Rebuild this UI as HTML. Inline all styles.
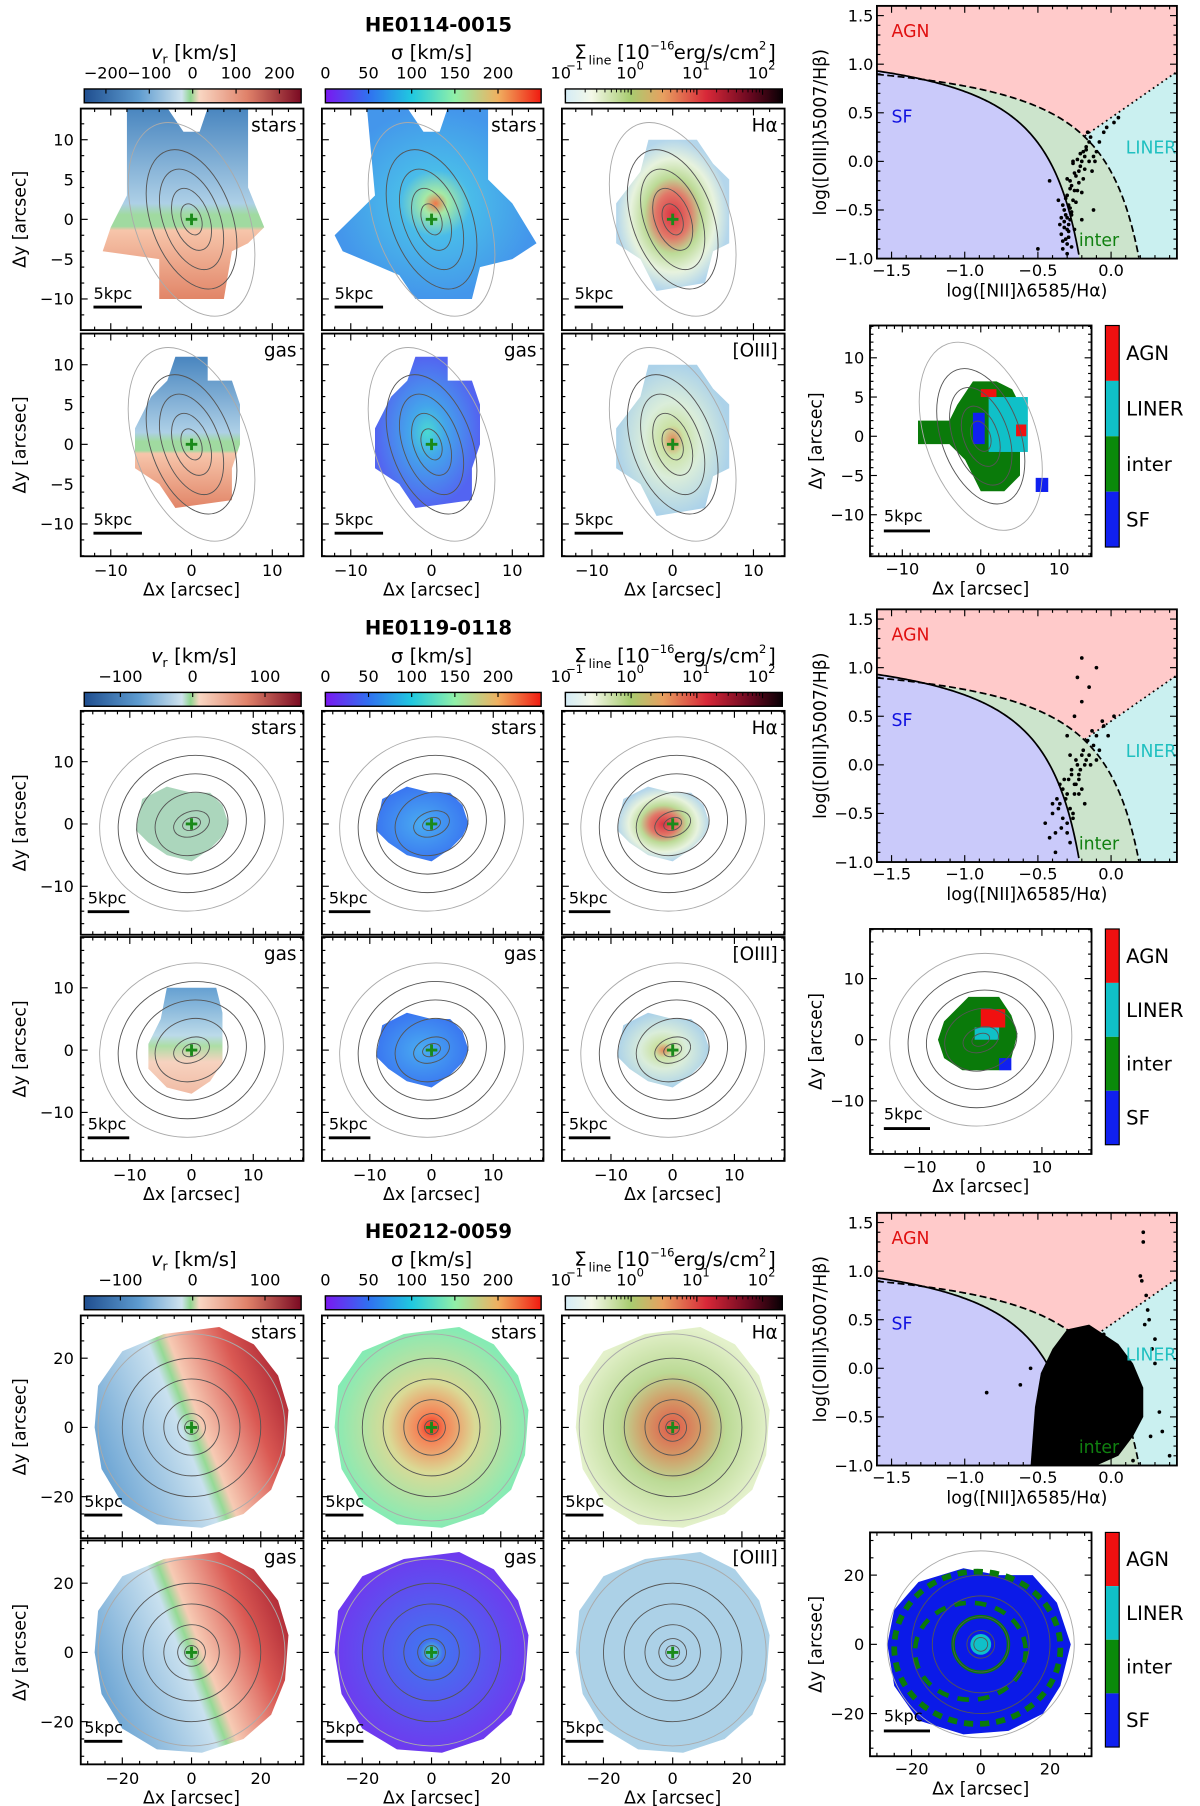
<!DOCTYPE html>
<html><head><meta charset="utf-8">
<style>
html,body{margin:0;padding:0;background:#fff;}
svg{display:block;font-family:"DejaVu Sans","Liberation Sans",sans-serif;}
</style></head>
<body>
<svg id="fig" xmlns="http://www.w3.org/2000/svg" width="1200" height="1806" viewBox="0 0 1040 1565">
<defs>
<linearGradient id="cbVel" x1="0" x2="1" y1="0" y2="0">
<stop offset="0" stop-color="#1f4e8f"/><stop offset="0.25" stop-color="#5d9bcf"/><stop offset="0.45" stop-color="#cfe3ee"/><stop offset="0.49" stop-color="#8fd68f"/><stop offset="0.53" stop-color="#f9d7c3"/><stop offset="0.75" stop-color="#e0826a"/><stop offset="1" stop-color="#7a0a22"/></linearGradient>
<linearGradient id="cbSig" x1="0" x2="1" y1="0" y2="0">
<stop offset="0" stop-color="#7a18f0"/><stop offset="0.2" stop-color="#3070f0"/><stop offset="0.4" stop-color="#20c8e0"/><stop offset="0.6" stop-color="#90f0a8"/><stop offset="0.8" stop-color="#f0b060"/><stop offset="1" stop-color="#f01a10"/></linearGradient>
<linearGradient id="cbLine" x1="0" x2="1" y1="0" y2="0">
<stop offset="0" stop-color="#d4ecf6"/><stop offset="0.12" stop-color="#f4f8e8"/><stop offset="0.3" stop-color="#a8cc70"/><stop offset="0.45" stop-color="#e8a060"/><stop offset="0.65" stop-color="#d82838"/><stop offset="0.85" stop-color="#6a0820"/><stop offset="1" stop-color="#080004"/></linearGradient>
<linearGradient id="g1vel" x1="0" x2="0" y1="0" y2="1">
<stop offset="0" stop-color="#3f7fbc"/><stop offset="0.5" stop-color="#a9cde5"/><stop offset="0.56" stop-color="#9bd89b"/><stop offset="0.62" stop-color="#9bd89b"/><stop offset="0.64" stop-color="#f6c2a6"/><stop offset="1" stop-color="#e07f60"/></linearGradient>
<linearGradient id="g2vel" x1="0" x2="0" y1="0" y2="1">
<stop offset="0" stop-color="#5d9bcf"/><stop offset="0.45" stop-color="#b8d8e8"/><stop offset="0.55" stop-color="#a8dca0"/><stop offset="0.7" stop-color="#f6d0bc"/><stop offset="1" stop-color="#f0b8a0"/></linearGradient>
<linearGradient id="g3vel" x1="0" x2="1" y1="0.7" y2="0.3">
<stop offset="0" stop-color="#5d9bcf"/><stop offset="0.45" stop-color="#c6dfee"/><stop offset="0.5" stop-color="#90d890"/><stop offset="0.55" stop-color="#f6c8b0"/><stop offset="0.8" stop-color="#d8504a"/><stop offset="1" stop-color="#a81c2a"/></linearGradient>
<radialGradient id="g3sig"><stop offset="0" stop-color="#f02010"/><stop offset="0.15" stop-color="#f48050"/><stop offset="0.45" stop-color="#d8d890"/><stop offset="1" stop-color="#80eab0"/></radialGradient>
<radialGradient id="g3ha"><stop offset="0" stop-color="#e05040"/><stop offset="0.3" stop-color="#d09860"/><stop offset="0.55" stop-color="#b8d890"/><stop offset="1" stop-color="#e2f0c8"/></radialGradient>
<radialGradient id="g3gsig"><stop offset="0" stop-color="#40e0c0"/><stop offset="0.12" stop-color="#3a6af0"/><stop offset="1" stop-color="#6630ee"/></radialGradient>
<radialGradient id="gSigStar"><stop offset="0" stop-color="#f07040"/><stop offset="0.12" stop-color="#a0e8a0"/><stop offset="0.35" stop-color="#40b8e8"/><stop offset="1" stop-color="#3a90ea"/></radialGradient>
<radialGradient id="gHa"><stop offset="0" stop-color="#d82838"/><stop offset="0.3" stop-color="#e07060"/><stop offset="0.5" stop-color="#b8d890"/><stop offset="0.75" stop-color="#e6f2dc"/><stop offset="1" stop-color="#b0d4ea"/></radialGradient>
<radialGradient id="gOiii"><stop offset="0" stop-color="#e08050"/><stop offset="0.2" stop-color="#c8e0a0"/><stop offset="0.5" stop-color="#d8ecd8"/><stop offset="1" stop-color="#a8d0e8"/></radialGradient>
<radialGradient id="gGsig"><stop offset="0" stop-color="#40d8d0"/><stop offset="0.35" stop-color="#3aa0ea"/><stop offset="1" stop-color="#4a5cf0"/></radialGradient>
<radialGradient id="g2sig"><stop offset="0" stop-color="#40a8f0"/><stop offset="1" stop-color="#3070f0"/></radialGradient>
</defs>
<g id="root"></g>
</svg>
<script>
// ---------- data ----------
const blockTitles = ["HE0114-0015","HE0119-0118","HE0212-0059"];
const velTicks1 = [-200,-100,0,100,200];
const velTicks23 = [-100,0,100];
const sigTicks = [0,50,100,150,200];
const lineTicks = [-1,0,1,2];
const mapXTicks1 = [-10,0,10];
const mapYTicks1 = [-10,-5,0,5,10];
const mapXTicks2 = [-10,0,10];
const mapYTicks2 = [-10,0,10];
const mapXTicks3 = [-20,0,20];
const mapYTicks3 = [-20,0,20];
const bptXTicks = [-1.5,-1.0,-0.5,0.0];
const bptYTicks = [-1.0,-0.5,0.0,0.5,1.0,1.5];
const classLabels = ["AGN","LINER","inter","SF"];
// BPT points [log NII/Ha, log OIII/Hb]
const bpt1X = [-0.33,-0.31,-0.3,-0.28,-0.27,-0.32,-0.29,-0.26,-0.25,-0.3,-0.28,-0.24,-0.22,-0.2,-0.18,-0.21,-0.19,-0.17,-0.15,-0.14,-0.16,-0.12,-0.1,-0.08,-0.05,-0.03,0.02,0.05,-0.12,-0.34,-0.35,-0.33,-0.31,-0.29,-0.3,-0.27,-0.36,-0.42,-0.5,-0.2,-0.23,-0.25,-0.13,-0.11,-0.26,-0.3,-0.32,-0.3,-0.28,-0.31,-0.29,-0.27,-0.33,-0.25,-0.22,-0.2,-0.24,-0.18,-0.26,-0.28,-0.3,-0.32,-0.34,-0.29,-0.27,-0.23,-0.21,-0.19,-0.17,-0.15];
const bpt1Y = [-0.9,-0.8,-0.7,-0.6,-0.55,-0.5,-0.45,-0.4,-0.3,-0.35,-0.2,-0.15,-0.1,0.0,0.05,-0.05,0.1,0.15,0.2,0.25,0.3,0.05,0.1,0.2,0.3,0.35,0.4,0.45,-0.5,-0.75,-0.65,-0.45,-0.55,-0.65,-0.85,-0.25,-0.4,-0.2,-0.9,-0.6,-0.3,-0.7,-0.1,0.0,0.0,-0.95,-0.62,-0.58,-0.48,-0.38,-0.72,-0.52,-0.82,-0.12,-0.22,-0.32,-0.42,-0.08,-0.02,-0.28,-0.18,-0.68,-0.58,-0.78,-0.88,0.02,0.08,-0.18,0.12,0.0];
const bpt2X = [-0.45,-0.4,-0.38,-0.35,-0.33,-0.3,-0.28,-0.25,-0.22,-0.2,-0.18,-0.15,-0.12,-0.1,-0.08,-0.05,-0.42,-0.37,-0.32,-0.27,-0.24,-0.2,-0.16,-0.13,-0.3,-0.26,-0.22,-0.18,-0.14,-0.1,-0.06,-0.02,0.02,-0.25,-0.2,-0.15,-0.1,-0.2,-0.23,-0.3,-0.35,-0.4,-0.28,-0.33,-0.31,-0.29,-0.27,-0.25,-0.23,-0.21,-0.19,-0.36,-0.34,-0.26,-0.24,-0.17,-0.22,-0.28,-0.3,-0.38];
const bpt2Y = [-0.6,-0.5,-0.7,-0.4,-0.55,-0.3,-0.45,-0.2,-0.1,-0.25,0.0,0.1,0.2,0.3,0.15,0.4,-0.75,-0.35,-0.15,-0.05,0.05,0.1,0.25,0.35,-0.6,-0.5,-0.3,-0.4,0.0,0.05,0.45,0.3,0.5,0.5,0.65,0.8,1.0,1.1,0.9,0.3,-0.2,-0.4,-0.8,-0.25,-0.35,-0.15,-0.1,-0.3,0.0,-0.05,0.15,-0.45,-0.65,-0.55,-0.2,0.05,-0.15,0.1,-0.7,-0.9];
const bpt3X = [-0.85,-0.62,-0.55,-0.05,0.22,0.22,0.2,0.21,0.25,0.23,0.3,0.33,0.27,0.35,0.4,0.15,0.1,0.24,0.26,0.28,0.3];
const bpt3Y = [-0.25,-0.17,0.0,0.35,1.4,1.3,0.95,0.9,0.6,0.45,0.3,-0.45,-0.7,-0.65,-0.9,-0.95,0.1,0.75,0.5,0.2,0.05];
const bpt3DenseX = [-0.55,-0.52,-0.48,-0.4,-0.3,-0.15,-0.05,0.05,0.15,0.22,0.22,0.15,0.05,-0.1,-0.25,-0.45];
const bpt3DenseY = [-1.0,-0.4,-0.05,0.2,0.4,0.45,0.35,0.25,0.05,-0.2,-0.5,-0.7,-0.9,-1.0,-1.0,-1.0];

// ---------- layout helpers ----------
const NS="http://www.w3.org/2000/svg";
const root=document.getElementById('root');
let clipId=0;
function el(tag,attrs,parent){const e=document.createElementNS(NS,tag);for(const k in attrs)e.setAttribute(k,attrs[k]);(parent||root).appendChild(e);return e;}
function txt(s,x,y,size,parent,anchor,extra){const t=el('text',Object.assign({x:x,y:y,'font-size':size,'text-anchor':anchor||'middle'},extra||{}),parent);t.textContent=s;return t;}
function clipped(g,x,y,w,h){const id='cp'+(clipId++);const cp=el('clipPath',{id:id},g);el('rect',{x:x,y:y,width:w,height:h},cp);return el('g',{'clip-path':`url(#${id})`},g);}

const cols=[{x0:70,x1:263,cx:166},{x0:279,x1:471,cx:374},{x0:487,x1:680,cx:583}];
const blocks=[
 {top:0,title:20,cbY:77,rows:[[94,286],[289,482]],y0:[190,385],sx:7.0,sy:6.9,xT:mapXTicks1,yT:mapYTicks1,minor:2,velT:velTicks1,
  bpt:[5,224],cls:{y:[282,482],cx:850,cy:378,s:6.8,xT:mapXTicks1,yT:[-10,-5,0,5,10]},kpc:[83,123]},
 {top:523,title:543,cbY:600,rows:[[616,810],[812,1006]],y0:[714,910],sx:5.35,sy:5.4,xT:mapXTicks2,yT:mapYTicks2,minor:2,velT:velTicks23,
  bpt:[528,747],cls:{y:[805,1000],cx:850,cy:901,s:5.3,xT:mapXTicks2,yT:mapYTicks2},kpc:[78,112]},
 {top:1046,title:1066,cbY:1123,rows:[[1140,1333],[1335,1529]],y0:[1237,1432],sx:3.0,sy:3.0,xT:mapXTicks3,yT:mapYTicks3,minor:5,velT:velTicks23,
  bpt:[1051,1270],cls:{y:[1328,1522],cx:850,cy:1425,s:3.0,xT:mapXTicks3,yT:mapYTicks3},kpc:[75,106]}
];

function ticksFrame(g,x0,y0,x1,y1,xs,ys,maj,minStep,range){
  const lo=range[0],hi=range[1];
  for(let v=Math.ceil(lo/minStep)*minStep;v<=hi;v+=minStep){
    const isMaj=maj.x.includes(v);const L=isMaj?6:3;const px=xs(v);
    if(px<x0||px>x1)continue;
    el('line',{x1:px,x2:px,y1:y1,y2:y1-L,stroke:'#000','stroke-width':1},g);
    el('line',{x1:px,x2:px,y1:y0,y2:y0+L,stroke:'#000','stroke-width':1},g);
  }
  for(let v=Math.ceil(lo/minStep)*minStep;v<=hi;v+=minStep){
    const isMaj=maj.y.includes(v);const L=isMaj?6:3;const py=ys(v);
    if(py<y0||py>y1)continue;
    el('line',{x1:x0,x2:x0+L,y1:py,y2:py,stroke:'#000','stroke-width':1},g);
    el('line',{x1:x1,x2:x1-L,y1:py,y2:py,stroke:'#000','stroke-width':1},g);
  }
}

const shapes = {
 b0star:[[-8,14],[-3,14],[-1,11],[1,11],[2,14],[7,14],[7,4],[9,-1],[7,-3],[5,-4],[4,-10],[-4,-10],[-4,-5],[-11,-4],[-10,-1],[-8,3]],
 b0sigstar:[[-8,14],[-3,14],[-1,11],[1,11],[2,14],[7,14],[7,5],[10,2],[13,-3],[10,-5],[6,-6],[5,-10],[-2,-10],[-4,-7],[-11,-4],[-12,-2],[-10,0],[-7,3]],
 b0ha:[[-3,10],[3,10],[5,7],[7,5],[7,-3],[5,-4],[4,-8],[-2,-9],[-4,-5],[-7,-3],[-7,2],[-4,6]],
 b0gas:[[-2,11],[2,11],[2,8],[5,8],[6,5],[6,0],[5,-3],[5,-7],[-2,-8],[-4,-5],[-7,-3],[-7,2],[-5,6],[-3,8]],
 b1star:[[-8,4],[-4,6],[0,5],[3,5],[5,3],[6,0],[5,-2],[3,-4],[0,-6],[-4,-5],[-7,-3],[-9,-1]],
 b1gas:[[-4,10],[4,10],[5,6],[5,-2],[3,-5],[0,-7],[-4,-6],[-7,-3],[-7,1],[-5,5]],
 b3:[[-8,27],[8,29],[18,24],[25,15],[28,5],[27,-8],[23,-18],[15,-25],[3,-29],[-10,-28],[-20,-22],[-26,-12],[-28,0],[-27,12],[-20,22]],
 cls0:[[-1,7],[2,7],[4,6],[5,4],[6,2],[5,-2],[5,-5],[3,-7],[0,-7],[-1,-5],[-2,-3],[-4,-1],[-8,-1],[-8,2],[-4,2],[-3,4]],
 cls1:[[-2,7],[3,7],[5,4],[6,1],[5,-3],[3,-5],[0,-5],[-3,-5],[-6,-3],[-7,0],[-6,3]],
 cls2:[[-5,22],[5,20],[15,20],[22,12],[26,0],[23,-12],[18,-20],[8,-25],[-5,-26],[-18,-22],[-25,-12],[-27,0],[-25,10],[-18,18]]
};
const panelDefs = [
 [[{s:'b0star',f:'url(#g1vel)',lab:'stars'},{s:'b0sigstar',f:'url(#gSigStar)',lab:'stars'},{s:'b0ha',f:'url(#gHa)',lab:'Hα'}],
  [{s:'b0gas',f:'url(#g1vel)',lab:'gas'},{s:'b0gas',f:'url(#gGsig)',lab:'gas'},{s:'b0ha',f:'url(#gOiii)',lab:'[OIII]'}]],
 [[{s:'b1star',f:'#a6d4b8',lab:'stars'},{s:'b1star',f:'url(#g2sig)',lab:'stars'},{s:'b1star',f:'url(#gHa)',lab:'Hα'}],
  [{s:'b1gas',f:'url(#g2vel)',lab:'gas'},{s:'b1star',f:'url(#g2sig)',lab:'gas'},{s:'b1star',f:'url(#gOiii)',lab:'[OIII]'}]],
 [[{s:'b3',f:'url(#g3vel)',lab:'stars'},{s:'b3',f:'url(#g3sig)',lab:'stars'},{s:'b3',f:'url(#g3ha)',lab:'Hα'}],
  [{s:'b3',f:'url(#g3vel)',lab:'gas'},{s:'b3',f:'url(#g3gsig)',lab:'gas'},{s:'b3',f:'#a8cfe6',lab:'[OIII]'}]]
];

function contours(g,xs,ys,bi,sx){
  const rs = bi===0 ? [[1.2,2],[2.2,4],[3.5,6.5],[5,9],[7,12.5]] : bi===1 ? [[1.5,1],[3,2],[6,5],[9,8],[12,11],[15,14]] : [[2,2],[4,4],[8,8],[14,14],[20,20],[27,27]];
  const rot = bi===0?-20:(bi===1?-20:-10);
  rs.forEach((r,i)=>{
    const e=el('ellipse',{cx:xs(0),cy:ys(0),rx:r[0]*sx,ry:r[1]*sx,fill:'none',stroke:i===rs.length-1?'#aaa':'#555','stroke-width':0.8,transform:`rotate(${rot} ${xs(0)} ${ys(0)})`},g);
    
    
  });
}

function drawMap(bi,ri,ci){
  const B=blocks[bi],C=cols[ci],R=B.rows[ri],P=panelDefs[bi][ri][ci];
  const g=el('g',{});
  const xs=v=>C.cx+v*B.sx, ys=v=>B.y0[ri]-v*B.sy;
  const inner=clipped(g,C.x0,R[0],C.x1-C.x0,R[1]-R[0]);
  const pts=shapes[P.s].map(p=>xs(p[0]).toFixed(1)+','+ys(p[1]).toFixed(1)).join(' ');
  const bl=el('polygon',{points:pts,fill:P.f,opacity:0.95},inner);
  
  
  contours(inner,xs,ys,bi,B.sx);
  el('path',{d:`M${xs(0)-5},${ys(0)}h10M${xs(0)},${ys(0)-5}v10`,stroke:'#1a8a1a','stroke-width':2.5},g);
  el('rect',{x:C.x0,y:R[0],width:C.x1-C.x0,height:R[1]-R[0],fill:'none',stroke:'#000','stroke-width':1.6,},g);
  ticksFrame(g,C.x0,R[0],C.x1,R[1],xs,ys,{x:B.xT,y:B.yT},B.minor,[-35,35]);
  txt(P.lab,C.x1-6,R[0]+20,16,g,'end',{});
  el('line',{x1:C.x0+(B.kpc[0]-70)-2,x2:C.x0+(B.kpc[1]-70),y1:R[1]-20,y2:R[1]-20,stroke:'#000','stroke-width':2.5,},g);
  txt('5kpc',C.x0+(B.kpc[0]-70)-2,R[1]-27,14,g,'start',{});
  if(ci===0){
    B.yT.forEach(v=>txt(v===0?'0':(v<0?'−'+(-v):String(v)),C.x0-6,ys(v)+5,14,g,'end',{}));
    const my=(R[0]+R[1])/2;
    txt('Δy [arcsec]',22,my,15,g,'middle',{transform:`rotate(-90 22 ${my})`,});
  }
  if(ri===1){
    B.xT.forEach(v=>txt(v===0?'0':(v<0?'−'+(-v):String(v)),xs(v),R[1]+17,14,g,'middle',{}));
    txt('Δx [arcsec]',C.cx,R[1]+34,15,g,'middle',{});
  }
}

function drawColorbars(bi){
  const B=blocks[bi];const y=B.cbY;
  const g=el('g',{});
  const fills=['url(#cbVel)','url(#cbSig)','url(#cbLine)'];
  cols.forEach((C,ci)=>{
    const x0=C.x0+3,x1=C.x1-2;
    const r=el('rect',{x:x0,y:y,width:x1-x0,height:12,fill:fills[ci],stroke:'#000','stroke-width':1.2},g);
    
    
  });
  const vmax=bi===0?250:150;
  const vx=v=>cols[0].x0+3+(v+vmax)/(2*vmax)*(cols[0].x1-cols[0].x0-5);
  B.velT.forEach(v=>{el('line',{x1:vx(v),x2:vx(v),y1:y,y2:y+4,stroke:'#000'},g);txt(v===0?'0':(v<0?'−'+(-v):String(v)),vx(v),y-9,14,g);});
  txt('v',cols[0].cx-30,y-26,17,g,'middle',{'font-style':'italic'});
  txt('r',cols[0].cx-23,y-22,11,g);
  txt('[km/s]',cols[0].cx+12,y-26,17,g);
  const sx=v=>cols[1].x0+3+v/250*(cols[1].x1-cols[1].x0-5);
  sigTicks.forEach(v=>{el('line',{x1:sx(v),x2:sx(v),y1:y,y2:y+4,stroke:'#000'},g);txt(String(v),sx(v),y-9,14,g);});
  txt('σ [km/s]',cols[1].cx,y-26,17,g);
  const lx=v=>cols[2].x0+3+(v+1)/3.3*(cols[2].x1-cols[2].x0-5);
  lineTicks.forEach(v=>{
    el('line',{x1:lx(v),x2:lx(v),y1:y,y2:y+5,stroke:'#000'},g);
    txt('10',lx(v)-4,y-9,14,g);
    txt(v===-1?'−1':String(v),lx(v)+8,y-17,10,g);
    if(v<2)for(let k=2;k<10;k++){const xx=lx(v+Math.log10(k));el('line',{x1:xx,x2:xx,y1:y,y2:y+3,stroke:'#000','stroke-width':0.8},g);}
  });
  txt('Σ',cols[2].x0+16,y-26,17,g);
  txt('line',cols[2].x0+33,y-21,11,g);
  txt('[10',cols[2].x0+62,y-26,17,g);
  txt('−16',cols[2].x0+87,y-34,10,g);
  txt('erg/s/cm',cols[2].x0+134,y-26,17,g);
  txt('2',cols[2].x0+174,y-34,10,g);
  txt(']',cols[2].x0+182,y-26,17,g);
}

function drawBPT(bi,X,Y,dense){
  const B=blocks[bi];const y0=B.bpt[0],y1=B.bpt[1];const x0=760,x1=1020;
  const g=el('g',{});
  const xmin=-1.6,xmax=0.45,ymin=-1.0,ymax=1.6;
  const xs=v=>x0+(v-xmin)/(xmax-xmin)*(x1-x0), ys=v=>y1-(v-ymin)/(ymax-ymin)*(y1-y0);
  const inner=clipped(g,x0,y0,x1-x0,y1-y0);
  el('rect',{x:x0,y:y0,width:x1-x0,height:y1-y0,fill:'#ffcaca',},inner);
  const kew=x=>0.61/(x-0.47)+1.19, kau=x=>0.61/(x-0.05)+1.3, lin=x=>1.05*x+0.45;
  let kl=[];for(let x=-0.2;x<=0.2;x+=0.01)kl.push([x,kew(x)]);
  const lp=[[xmax,-1.2],[xmax,lin(xmax)],[-0.18,lin(-0.18)]].concat(kl.filter(q=>q[0]>=-0.18)).concat([[0.25,-1.2]]);
  const ipk=[];for(let x=xmin;x<=0.2;x+=0.01)ipk.push([x,kew(x)]);
  const inter=ipk.concat([[0.25,-1.2],[-0.2,-1.2]]);
  el('polygon',{points:inter.map(q=>xs(q[0])+','+ys(Math.max(q[1],-1.2))).join(' '),fill:'#cce4cc',},inner);
  el('polygon',{points:lp.map(q=>xs(q[0])+','+ys(q[1])).join(' '),fill:'#caf0f0',},inner);
  const sp=[];for(let x=xmin;x<=-0.21;x+=0.01)sp.push([x,kau(x)]);sp.push([-0.21,-1.2],[xmin,-1.2]);
  el('polygon',{points:sp.map(q=>xs(q[0])+','+ys(q[1])).join(' '),fill:'#cacafa',},inner);
  el('polyline',{points:sp.slice(0,-2).map(q=>xs(q[0])+','+ys(q[1])).join(' '),fill:'none',stroke:'#000','stroke-width':1.5,},inner);
  el('polyline',{points:ipk.map(q=>xs(q[0])+','+ys(q[1])).join(' '),fill:'none',stroke:'#000','stroke-width':1.5,'stroke-dasharray':'6,3',},inner);
  el('line',{x1:xs(-0.18),y1:ys(lin(-0.18)),x2:xs(xmax),y2:ys(lin(xmax)),stroke:'#000','stroke-width':1.5,'stroke-dasharray':'1.5,3',},inner);
  if(dense){const d=el('polygon',{points:dense[0].map((v,i)=>xs(v)+','+ys(dense[1][i])).join(' '),fill:'#000'},inner);
    }
  X.forEach((v,i)=>{const c=el('circle',{cx:xs(v),cy:ys(Y[i]),r:1.6,fill:'#000'},inner);
    });
  txt('AGN',xs(-1.5),ys(1.28),15,inner,'start',{fill:'#e01010'});
  txt('SF',xs(-1.5),ys(0.4),15,inner,'start',{fill:'#1010e0'});
  txt('LINER',xs(0.1),ys(0.08),15,inner,'start',{fill:'#20c0c0'});
  txt('inter',xs(-0.22),ys(-0.87),15,inner,'start',{fill:'#108010'});
  el('rect',{x:x0,y:y0,width:x1-x0,height:y1-y0,fill:'none',stroke:'#000','stroke-width':1.6},g);
  for(let i=-16;i<=4;i++){const v=i/10;const L=(i%5===0)?6:3;const px=xs(v);
    el('line',{x1:px,x2:px,y1:y1,y2:y1-L,stroke:'#000'},g);el('line',{x1:px,x2:px,y1:y0,y2:y0+L,stroke:'#000'},g);}
  for(let i=-10;i<=15;i++){const v=i/10;const L=(i%5===0)?6:3;const py=ys(v);
    el('line',{x1:x0,x2:x0+L,y1:py,y2:py,stroke:'#000'},g);el('line',{x1:x1,x2:x1-L,y1:py,y2:py,stroke:'#000'},g);}
  bptXTicks.forEach(v=>txt((v<0?'−':'')+Math.abs(v).toFixed(1),xs(v),y1+15,14,g,'middle',{}));
  bptYTicks.forEach(v=>txt((v<0?'−':'')+Math.abs(v).toFixed(1),x0-3,ys(v)+5,14,g,'end',{}));
  txt('log([NII]λ6585/Hα)',890,y1+33,15,g,'middle',{});
  const my=(y0+y1)/2;
  txt('log([OIII]λ5007/Hβ)',716,my,15,g,'middle',{transform:`rotate(-90 716 ${my})`,});
}

function drawClass(bi){
  const B=blocks[bi],K=B.cls;const x0=754,x1=946,y0=K.y[0],y1=K.y[1];
  const g=el('g',{});
  const xs=v=>K.cx+v*K.s, ys=v=>K.cy-v*K.s;
  const inner=clipped(g,x0,y0,x1-x0,y1-y0);
  const sh=shapes['cls'+bi];
  const m=el('polygon',{points:sh.map(p=>xs(p[0])+','+ys(p[1])).join(' '),fill:bi===2?'#0b1ae8':'#0a7a0a'},inner);
  
  if(bi===0){
    el('rect',{x:xs(1),y:ys(5),width:5*K.s,height:7*K.s,fill:'#10c0c8'},inner);
    el('rect',{x:xs(0),y:ys(6),width:2*K.s,height:1*K.s,fill:'#f01010'},inner);
    el('rect',{x:xs(4.5),y:ys(1.5),width:1.3*K.s,height:1.5*K.s,fill:'#f01010'},inner);
    el('rect',{x:xs(-1),y:ys(3),width:1.5*K.s,height:4*K.s,fill:'#1020f0'},inner);
    el('rect',{x:xs(7),y:ys(-5.3),width:1.6*K.s,height:1.8*K.s,fill:'#1020f0'},inner);
  } else if(bi===1){
    el('rect',{x:xs(0),y:ys(5),width:4*K.s,height:3*K.s,fill:'#f01010'},inner);
    el('rect',{x:xs(-1),y:ys(2),width:4*K.s,height:2*K.s,fill:'#10c0c8'},inner);
    el('rect',{x:xs(3),y:ys(-3),width:2*K.s,height:2*K.s,fill:'#1020f0'},inner);
  } else {
    el('ellipse',{cx:xs(-1),cy:ys(-1),rx:24*K.s,ry:22*K.s,fill:'none',stroke:'#0a7a0a','stroke-width':5,'stroke-dasharray':'8,6'},inner);
    el('ellipse',{cx:xs(-3),cy:ys(-2),rx:16*K.s,ry:14*K.s,fill:'none',stroke:'#0a7a0a','stroke-width':4,'stroke-dasharray':'10,8'},inner);
    el('circle',{cx:xs(0),cy:ys(0),r:8*K.s,fill:'none',stroke:'#0a7a0a','stroke-width':3},inner);
    el('circle',{cx:xs(0),cy:ys(0),r:3*K.s,fill:'#10c0c8'},inner);
  }
  contours(inner,xs,ys,bi,K.s);
  el('rect',{x:x0,y:y0,width:x1-x0,height:y1-y0,fill:'none',stroke:'#000','stroke-width':1.6},g);
  ticksFrame(g,x0,y0,x1,y1,xs,ys,{x:K.xT,y:K.yT},bi===2?5:(bi===0?1:2),[-40,40]);
  el('line',{x1:x0+12,x2:x0+52,y1:y1-22,y2:y1-22,stroke:'#000','stroke-width':2.5},g);
  txt('5kpc',x0+12,y1-30,14,g,'start');
  K.xT.forEach(v=>txt(v===0?'0':(v<0?'−'+(-v):String(v)),xs(v),y1+16,14,g));
  K.yT.forEach(v=>txt(v===0?'0':(v<0?'−'+(-v):String(v)),x0-5,ys(v)+5,14,g,'end'));
  txt('Δx [arcsec]',850,y1+33,15,g);
  const my=(y0+y1)/2;txt('Δy [arcsec]',712,my,15,g,'middle',{transform:`rotate(-90 712 ${my})`});
  const cbx=958,cbw=12,ch=(y1-8-y0)/4;const cc=['#f01010','#10c0c8','#0a8a0a','#1020f0'];
  classLabels.forEach((lab,i)=>{
    const r=el('rect',{x:cbx,y:y0+i*ch,width:cbw,height:ch,fill:cc[i]},g);
    
    txt(lab,cbx+18,y0+i*ch+ch/2+6,17,g,'start');
  });
  el('rect',{x:cbx,y:y0,width:cbw,height:4*ch,fill:'none',stroke:'#000','stroke-width':1},g);
}

blocks.forEach((B,bi)=>{
  txt(blockTitles[bi],380,B.title+7,17,root,'middle',{'font-weight':'bold',});
  drawColorbars(bi);
  for(let r=0;r<2;r++)for(let c=0;c<3;c++)drawMap(bi,r,c);
  drawBPT(bi,[bpt1X,bpt2X,bpt3X][bi],[bpt1Y,bpt2Y,bpt3Y][bi],bi===2?[bpt3DenseX,bpt3DenseY]:null);
  drawClass(bi);
});
</script>
</body></html>
